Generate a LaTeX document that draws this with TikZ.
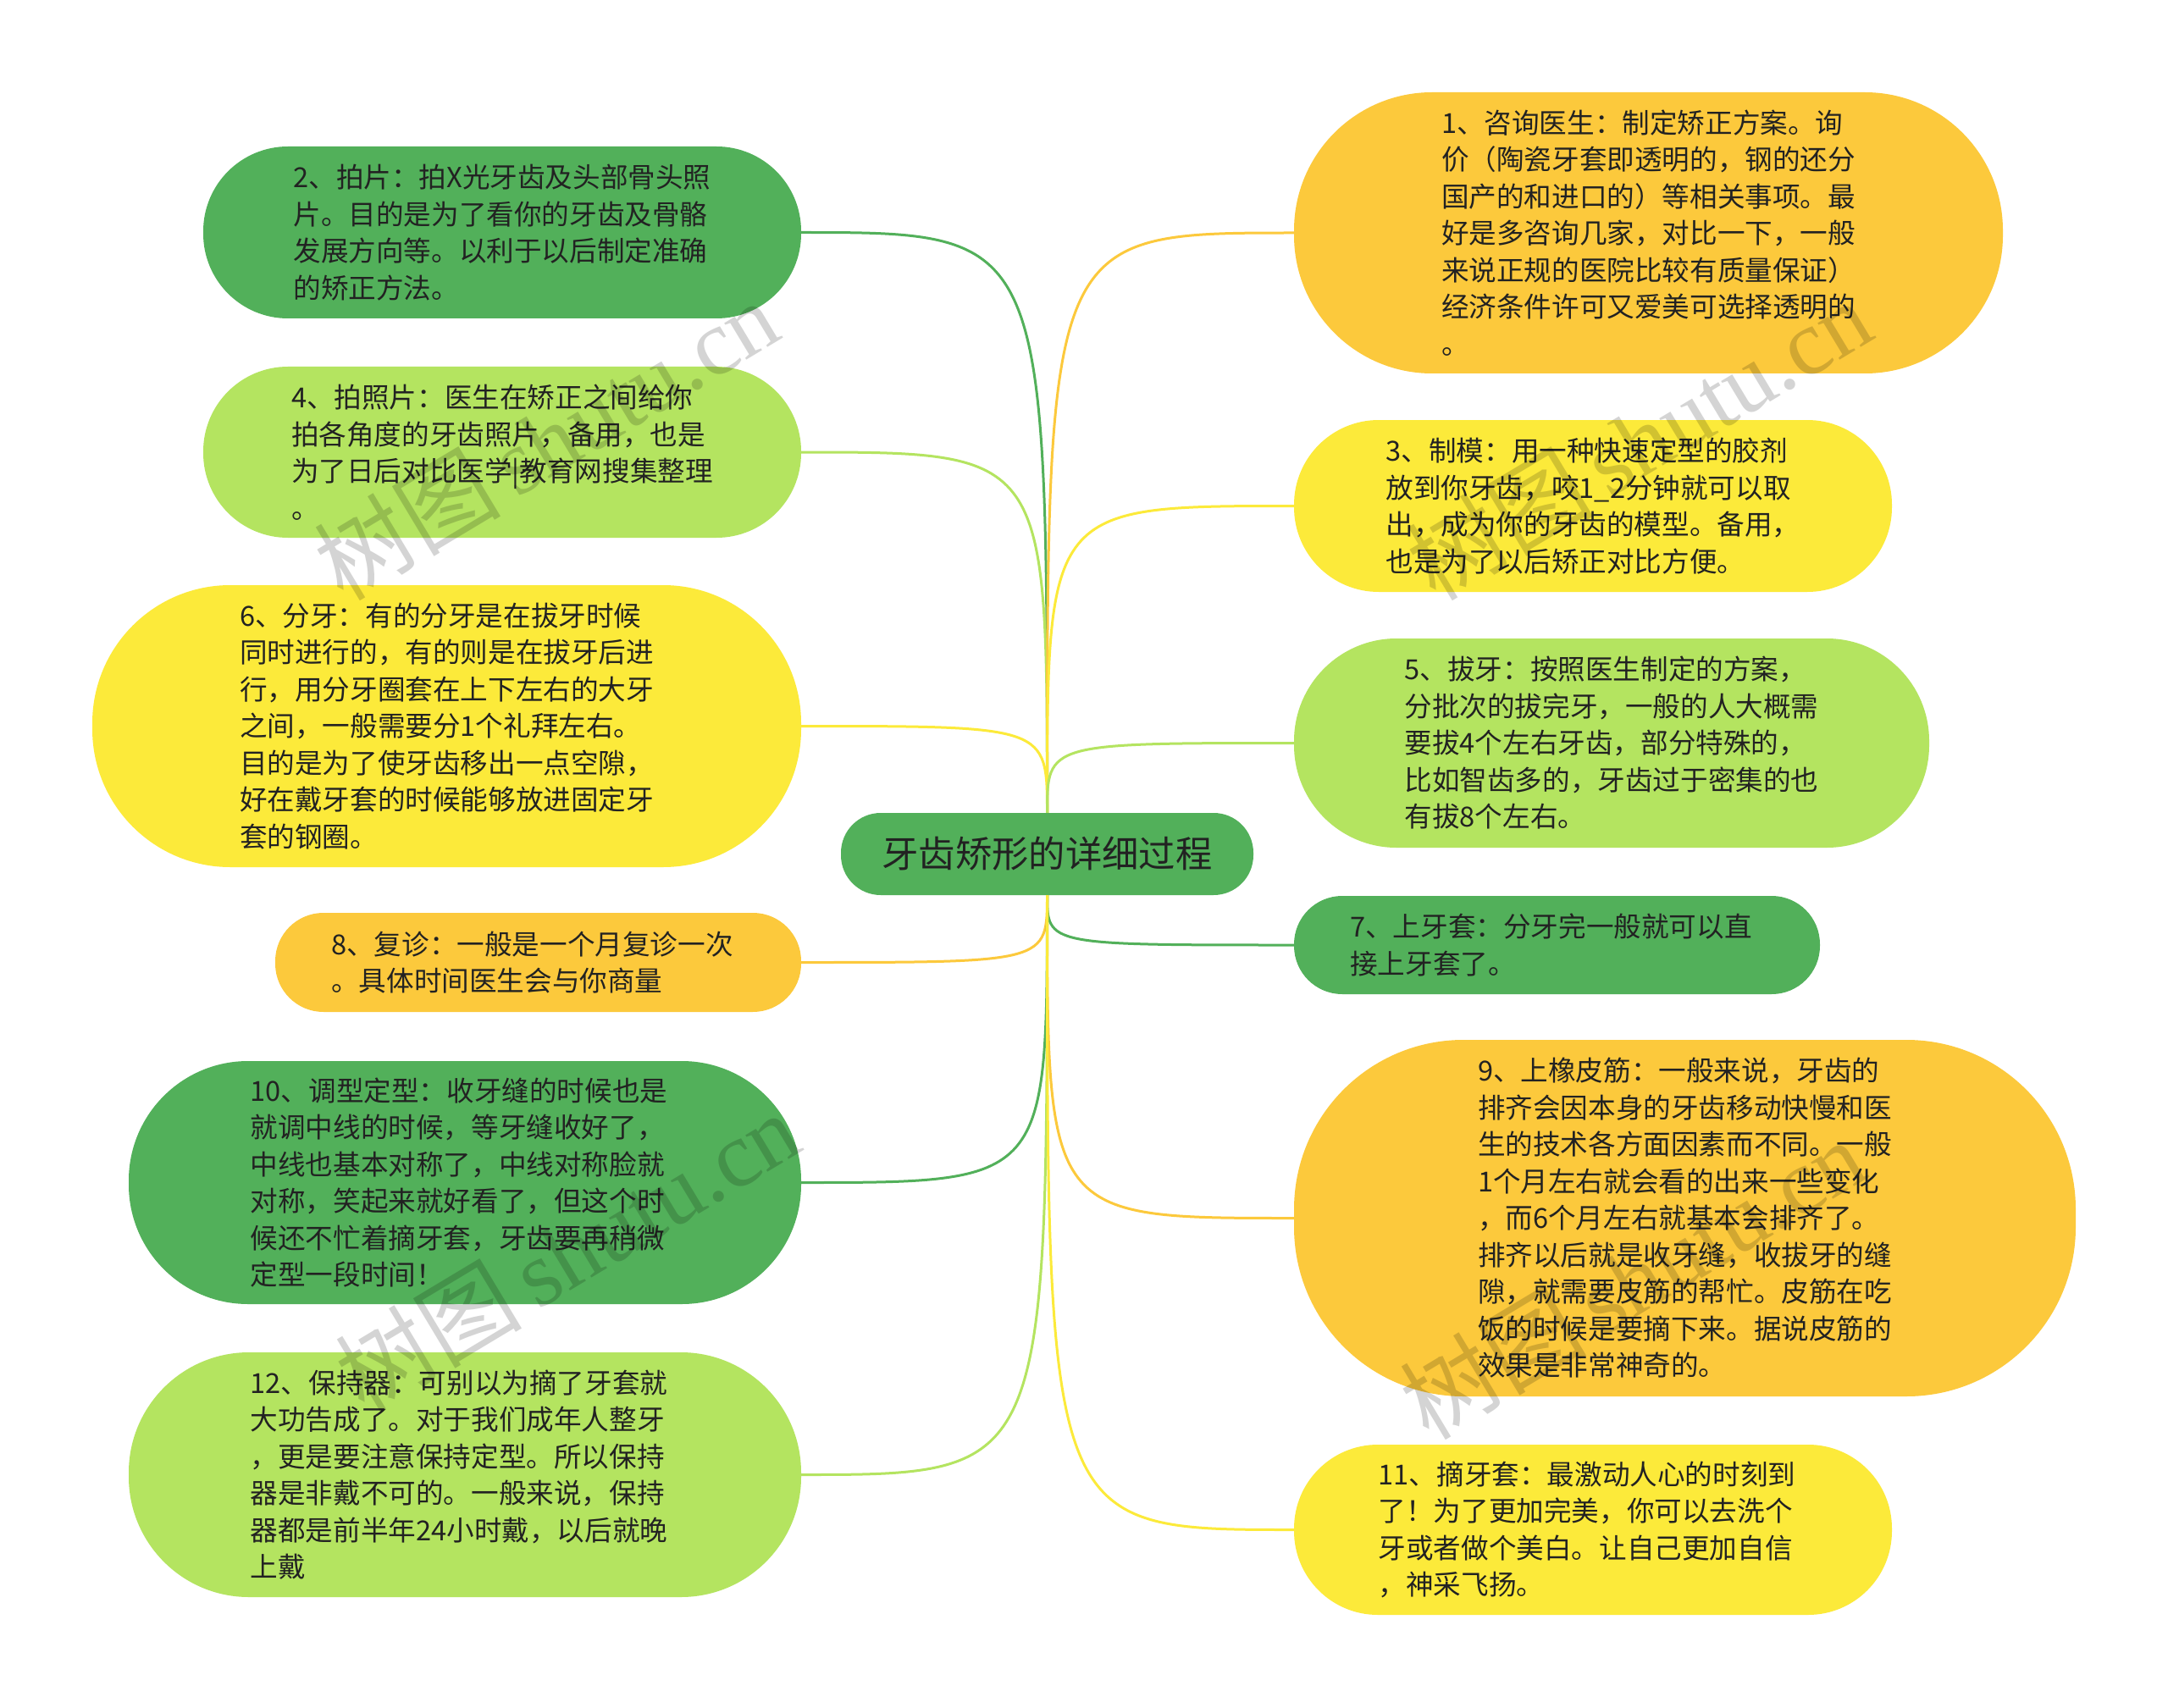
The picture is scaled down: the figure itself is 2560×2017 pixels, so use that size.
\documentclass[tikz,border=0pt]{standalone}
\usepackage{fontspec}
\setmainfont{Noto Sans CJK SC}
\newfontfamily\wmlatin{Liberation Serif}
\usetikzlibrary{calc}
\definecolor{dkgreen}{HTML}{52B05A}
\definecolor{ltgreen}{HTML}{B4E460}
\definecolor{ylw}{HTML}{FCEA3A}
\definecolor{orng}{HTML}{FCC93C}
\definecolor{txt}{HTML}{222222}
\newcommand\bubblefont{\fontsize{32.6}{43.5}\selectfont}
\newcommand\centerfont{\fontsize{43.3}{50}\selectfont}
\tikzset{
  bubble/.style={inner sep=0pt, text=txt, align=left, font=\bubblefont},
  link/.style={line width=3pt},
  wm/.style={text=black, opacity=0.17, font=\fontsize{110}{120}\selectfont, inner sep=0pt}
}
\begin{document}
\begin{tikzpicture}[x=1pt,y=-1pt]
\useasboundingbox[fill=white] (0,0) rectangle (2560,2017);
% center
\node[bubble, font=\centerfont, fill=dkgreen, minimum width=487pt, minimum height=97pt, rounded corners=47pt] (c) at (1236.5,1008.5) {牙齿矫形的详细过程};
% left
\node[bubble, fill=dkgreen, minimum width=706pt, minimum height=203pt, rounded corners=100pt] (n2) at (593,274.5) {2、拍片：拍X光牙齿及头部骨头照\\片。目的是为了看你的牙齿及骨骼\\发展方向等。以利于以后制定准确\\的矫正方法。\hspace*{14pt}};
\node[bubble, fill=ltgreen, minimum width=706pt, minimum height=202pt, rounded corners=100pt] (n4) at (593,534) {4、拍照片：医生在矫正之间给你\\拍各角度的牙齿照片，备用，也是\\为了日后对比医学|教育网搜集整理\hspace*{14pt}\\。};
\node[bubble, fill=ylw, minimum width=837pt, minimum height=333pt, rounded corners=163pt] (n6) at (527.5,857.5) {6、分牙：有的分牙是在拔牙时候\\同时进行的，有的则是在拔牙后进\hspace*{14pt}\\行，用分牙圈套在上下左右的大牙\\之间，一般需要分1个礼拜左右。\\目的是为了使牙齿移出一点空隙，\\好在戴牙套的时候能够放进固定牙\\套的钢圈。};
\node[bubble, fill=orng, minimum width=621pt, minimum height=117pt, rounded corners=57pt] (n8) at (635.5,1136.5) {8、复诊：一般是一个月复诊一次\hspace*{14pt}\\。具体时间医生会与你商量};
\node[bubble, fill=dkgreen, minimum width=794pt, minimum height=287pt, rounded corners=141pt] (n10) at (549,1396.5) {10、调型定型：收牙缝的时候也是\hspace*{14pt}\\就调中线的时候，等牙缝收好了，\\中线也基本对称了，中线对称脸就\\对称，笑起来就好看了，但这个时\\候还不忙着摘牙套，牙齿要再稍微\\定型一段时间！};
\node[bubble, fill=ltgreen, minimum width=794pt, minimum height=289pt, rounded corners=142pt] (n12) at (549,1741.5) {12、保持器：可别以为摘了牙套就\hspace*{14pt}\\大功告成了。对于我们成年人整牙\\，更是要注意保持定型。所以保持\\器是非戴不可的。一般来说，保持\\器都是前半年24小时戴，以后就晚\\上戴};
% right
\node[bubble, fill=orng, minimum width=837pt, minimum height=332pt, rounded corners=163pt] (n1) at (1946.5,275) {1、咨询医生：制定矫正方案。询\\价（陶瓷牙套即透明的，钢的还分\\国产的和进口的）等相关事项。最\\好是多咨询几家，对比一下，一般\\来说正规的医院比较有质量保证）\\经济条件许可又爱美可选择透明的\hspace*{14pt}\\。};
\node[bubble, fill=ylw, minimum width=706pt, minimum height=203pt, rounded corners=100pt] (n3) at (1881,597.5) {3、制模：用一种快速定型的胶剂\\放到你牙齿，咬1\_2分钟就可以取\hspace*{14pt}\\出，成为你的牙齿的模型。备用，\\也是为了以后矫正对比方便。};
\node[bubble, fill=ltgreen, minimum width=750pt, minimum height=247pt, rounded corners=121pt] (n5) at (1903,877.5) {5、拔牙：按照医生制定的方案，\\分批次的拔完牙，一般的人大概需\hspace*{14pt}\\要拔4个左右牙齿，部分特殊的，\\比如智齿多的，牙齿过于密集的也\\有拔8个左右。};
\node[bubble, fill=dkgreen, minimum width=621pt, minimum height=116pt, rounded corners=57pt] (n7) at (1838.5,1116) {7、上牙套：分牙完一般就可以直\hspace*{14pt}\\接上牙套了。};
\node[bubble, fill=orng, minimum width=923pt, minimum height=421pt, rounded corners=200pt] (n9) at (1989.5,1438.5) {9、上橡皮筋：一般来说，牙齿的\\排齐会因本身的牙齿移动快慢和医\hspace*{14pt}\\生的技术各方面因素而不同。一般\\1个月左右就会看的出来一些变化\\，而6个月左右就基本会排齐了。\\排齐以后就是收牙缝，收拔牙的缝\\隙，就需要皮筋的帮忙。皮筋在吃\\饭的时候是要摘下来。据说皮筋的\\效果是非常神奇的。};
\node[bubble, fill=ylw, minimum width=706pt, minimum height=201pt, rounded corners=99pt] (n11) at (1881,1806.5) {11、摘牙套：最激动人心的时刻到\hspace*{14pt}\\了！为了更加完美，你可以去洗个\\牙或者做个美白。让自己更加自信\\，神采飞扬。};
% connectors
\draw[link, dkgreen] (c.north) .. controls (c.north |- n2.east) .. (n2.east);
\draw[link, ltgreen] (c.north) .. controls (c.north |- n4.east) .. (n4.east);
\draw[link, ylw] (c.north) .. controls (c.north |- n6.east) .. (n6.east);
\draw[link, orng] (c.south) .. controls (c.south |- n8.east) .. (n8.east);
\draw[link, dkgreen] (c.south) .. controls (c.south |- n10.east) .. (n10.east);
\draw[link, ltgreen] (c.south) .. controls (c.south |- n12.east) .. (n12.east);
\draw[link, orng] (c.north) .. controls (c.north |- n1.west) .. (n1.west);
\draw[link, ylw] (c.north) .. controls (c.north |- n3.west) .. (n3.west);
\draw[link, ltgreen] (c.north) .. controls (c.north |- n5.west) .. (n5.west);
\draw[link, dkgreen] (c.south) .. controls (c.south |- n7.west) .. (n7.west);
\draw[link, orng] (c.south) .. controls (c.south |- n9.west) .. (n9.west);
\draw[link, ylw] (c.south) .. controls (c.south |- n11.west) .. (n11.west);
% watermarks
\node[wm, rotate=31] (w1) at (645,519) {树图\,{\wmlatin shutu.cn}};
\node[wm, rotate=31] (w2) at (670,1478) {树图\,{\wmlatin shutu.cn}};
\node[wm, rotate=31] (w3) at (1935,519) {树图\,{\wmlatin shutu.cn}};
\node[wm, rotate=31] (w4) at (1927,1510) {树图\,{\wmlatin shutu.cn}};
\end{tikzpicture}
\end{document}
